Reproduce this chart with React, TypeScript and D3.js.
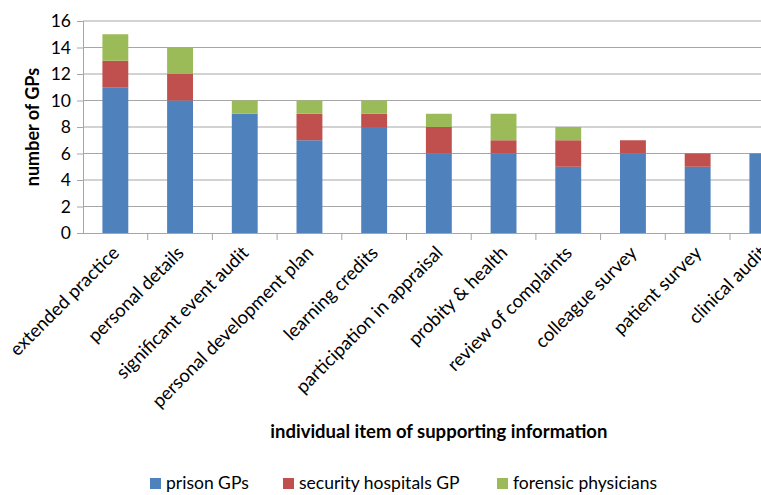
import React, { useEffect, useRef } from "react";
import * as d3 from "d3";

const categories = [
  "extended practice",
  "personal details",
  "significant event audit",
  "personal development plan",
  "learning credits",
  "participation in appraisal",
  "probity & health",
  "review of complaints",
  "colleague survey",
  "patient survey",
  "clinical audit",
];
const prisonGPs = [11, 10, 9, 7, 8, 6, 6, 5, 6, 5, 6];
const securityHospitalsGP = [2, 2, 0, 2, 1, 2, 1, 2, 1, 1, 0];
const forensicPhysicians = [2, 2, 1, 1, 1, 1, 2, 1, 0, 0, 0];
const seriesNames = ["prison GPs", "security hospitals GP", "forensic physicians"];
const yTicks = [0, 2, 4, 6, 8, 10, 12, 14, 16];

const colors = ["#4f81bd", "#c0504d", "#9bbb59"];
const FONT = "Lato, 'Open Sans', sans-serif";

function App() {
  const ref = useRef<SVGSVGElement>(null);

  useEffect(() => {
    document.body.style.margin = "0";
    const svg = d3.select(ref.current);
    svg.selectAll("*").remove();

    const left = 83;
    const top = 21;
    const bottom = 233;
    const band = 64.7;
    const right = left + band * categories.length; // runs past the window, like the source

    const x = d3.scaleBand().domain(categories).range([left, right]).padding(0);
    const y = d3.scaleLinear().domain([0, 16]).range([bottom, top]);

    // gridlines
    svg
      .append("g")
      .selectAll("line")
      .data(yTicks.slice(1))
      .enter()
      .append("line")
      .attr("x1", left)
      .attr("x2", right)
      .attr("y1", (d) => y(d))
      .attr("y2", (d) => y(d))
      .attr("stroke", "#a6a6a6")
      .attr("stroke-width", 1);

    // stacked data
    const rows = categories.map((c, i) => ({
      cat: c,
      s0: prisonGPs[i],
      s1: securityHospitalsGP[i],
      s2: forensicPhysicians[i],
    }));
    const stacked = d3.stack<any>().keys(["s0", "s1", "s2"])(rows);
    const barW = band * 0.4;

    svg
      .append("g")
      .selectAll("g")
      .data(stacked)
      .enter()
      .append("g")
      .attr("fill", (d, i) => colors[i])
      .selectAll("rect")
      .data((d) => d)
      .enter()
      .append("rect")
      .attr("x", (d: any) => x(d.data.cat)! + (x.bandwidth() - barW) / 2)
      .attr("width", barW)
      .attr("y", (d) => y(d[1]))
      .attr("height", (d) => y(d[0]) - y(d[1]));

    // y axis
    const yAxis = svg
      .append("g")
      .attr("transform", `translate(${left},0)`)
      .call(d3.axisLeft(y).tickValues(yTicks).tickSize(6).tickPadding(6));
    yAxis.select(".domain").attr("stroke", "#a6a6a6");
    yAxis.selectAll(".tick line").attr("stroke", "#a6a6a6");
    yAxis
      .selectAll(".tick text")
      .attr("font-family", FONT)
      .attr("font-size", 17.5)
      .attr("fill", "#000");

    // x axis with ticks between categories
    svg
      .append("line")
      .attr("x1", left)
      .attr("x2", right)
      .attr("y1", bottom + 0.5)
      .attr("y2", bottom + 0.5)
      .attr("stroke", "#a6a6a6");
    svg
      .append("g")
      .selectAll("line")
      .data(categories)
      .enter()
      .append("line")
      .attr("x1", (d) => x(d)! + x.bandwidth())
      .attr("x2", (d) => x(d)! + x.bandwidth())
      .attr("y1", bottom)
      .attr("y2", bottom + 7)
      .attr("stroke", "#a6a6a6");

    svg
      .append("g")
      .selectAll("text")
      .data(categories)
      .enter()
      .append("text")
      .attr(
        "transform",
        (d) => `translate(${x(d)! + x.bandwidth() / 2 + 5},${bottom + 21}) rotate(-45)`
      )
      .attr("text-anchor", "end")
      .attr("font-family", FONT)
      .attr("font-size", 18.5)
      .attr("fill", "#000")
      .text((d) => d);

    // axis titles
    svg
      .append("text")
      .attr("transform", `translate(39,${(top + bottom) / 2}) rotate(-90)`)
      .attr("text-anchor", "middle")
      .attr("font-family", FONT)
      .attr("font-weight", "bold")
      .attr("font-size", 18)
      .text("number of GPs");

    svg
      .append("text")
      .attr("x", (left + right) / 2)
      .attr("y", 438)
      .attr("text-anchor", "middle")
      .attr("font-family", FONT)
      .attr("font-weight", "bold")
      .attr("font-size", 18.5)
      .text("individual item of supporting information");

    // legend
    const legendX = [150, 283, 497];
    const lg = svg
      .append("g")
      .selectAll("g")
      .data(seriesNames)
      .enter()
      .append("g")
      .attr("transform", (d, i) => `translate(${legendX[i]},478)`);
    lg.append("rect")
      .attr("width", 11)
      .attr("height", 11)
      .attr("fill", (d, i) => colors[i]);
    lg.append("text")
      .attr("x", 16)
      .attr("y", 11)
      .attr("font-family", FONT)
      .attr("font-size", 17.5)
      .attr("fill", "#000")
      .text((d) => d);
  }, []);

  return <svg ref={ref} width={761} height={495} style={{ display: "block" }} />;
}

export default App;
